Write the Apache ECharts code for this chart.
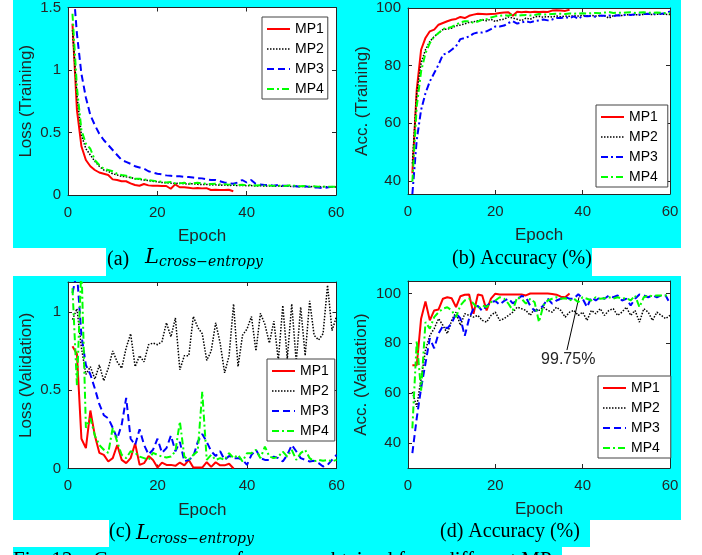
<!DOCTYPE html>
<html>
<head>
<meta charset="utf-8">
<script src="https://cdn.jsdelivr.net/npm/echarts@6/dist/echarts.min.js"></script>
<style>
  html, body { margin: 0; padding: 0; background: #fff; }
  #chart { width: 702px; height: 555px; }
</style>
</head>
<body>
<div id="chart"></div>
<script>
// ---- data ----
const epochs = [1,2,3,4,5,6,7,8,9,10,11,12,13,14,15,16,17,18,19,20,21,22,23,24,25,26,27,28,29,30,
  31,32,33,34,35,36,37,38,39,40,41,42,43,44,45,46,47,48,49,50,51,52,53,54,55,56,57,58,59,60];
const seriesNames = ['MP1', 'MP2', 'MP3', 'MP4'];
const xTicks = [0, 20, 40, 60];
const lossTrainTicks = [0, 0.5, 1, 1.5];
const accTicks = [40, 60, 80, 100];
const lossValTicks = [0, 0.5, 1];

// (a) training loss
const lossTrainMP1 = [1.37,0.68,0.39,0.28,0.23,0.20,0.18,0.17,0.16,0.125,0.12,0.11,0.11,0.093,0.08,0.074,0.088,0.077,0.074,0.074,
  0.072,0.072,0.05,0.085,0.062,0.062,0.058,0.053,0.056,0.053,0.055,0.04,0.042,0.04,0.04,0.042,0.03];
const lossTrainMP2 = [1.32,0.80,0.48,0.37,0.32,0.27,0.23,0.20,0.19,0.17,0.16,0.15,0.145,0.14,0.13,0.125,0.12,0.115,0.11,0.105,
  0.10,0.098,0.095,0.092,0.095,0.09,0.088,0.09,0.085,0.083,0.085,0.08,0.082,0.078,0.08,0.076,0.078,0.075,0.077,0.074,
  0.076,0.072,0.074,0.071,0.073,0.07,0.072,0.069,0.071,0.068,0.07,0.067,0.069,0.066,0.068,0.065,0.067,0.065,0.066,0.064];
const lossTrainMP3 = [1.75,1.29,0.97,0.78,0.64,0.56,0.49,0.44,0.40,0.36,0.32,0.28,0.265,0.25,0.23,0.22,0.21,0.19,0.18,0.17,
  0.165,0.157,0.154,0.15,0.15,0.146,0.144,0.14,0.135,0.133,0.125,0.12,0.12,0.11,0.10,0.095,0.09,0.10,0.12,0.10,
  0.12,0.09,0.085,0.08,0.08,0.075,0.08,0.075,0.075,0.07,0.07,0.065,0.07,0.065,0.06,0.06,0.055,0.06,0.065,0.07];
const lossTrainMP4 = [1.45,0.86,0.52,0.41,0.37,0.28,0.24,0.21,0.20,0.19,0.17,0.16,0.155,0.14,0.13,0.13,0.125,0.12,0.115,0.11,
  0.105,0.10,0.105,0.093,0.093,0.098,0.09,0.093,0.098,0.093,0.09,0.088,0.09,0.085,0.087,0.083,0.085,0.08,0.082,0.078,
  0.08,0.076,0.078,0.075,0.077,0.073,0.075,0.072,0.074,0.078,0.072,0.07,0.072,0.068,0.07,0.067,0.068,0.066,0.067,0.065];

// (b) training accuracy
const accTrainMP1 = [42.6,71.6,85.5,89.6,91.9,92.5,94.2,94.8,95.4,95.9,96.2,96.9,96.5,97.3,97.7,98.0,97.9,97.8,97.9,98.0,
  98.3,98.4,98.5,97.3,98.7,98.5,98.7,98.5,98.7,98.6,98.7,98.6,99.1,99.2,99.1,99.0,99.4];
const accTrainMP2 = [46.0,70.4,80.9,85.5,88.4,90.1,91.3,92.5,92.7,93.0,93.8,94.1,94.5,95.0,95.2,95.6,95.9,95.6,96.1,95.3,
  95.9,96.1,96.9,96.5,96.1,95.6,96.5,96.1,96.9,97.1,96.8,97.0,96.9,97.2,97.0,97.2,97.1,97.3,97.2,97.4,
  97.3,97.4,97.2,97.4,97.3,96.5,97.3,97.5,97.4,97.7,97.6,97.7,97.6,97.8,97.9,97.7,97.8,97.9,97.8,97.7];
const accTrainMP3 = [35.4,54.2,64.6,70.4,74.5,77.4,80.3,83.8,84.3,85.5,86.7,89.2,89.6,90.1,91.1,91.5,91.5,91.9,92.7,93.6,
  93.6,93.9,94.8,95.4,94.6,95.0,95.4,95.0,95.5,95.7,96.0,95.7,96.0,96.5,96.5,96.9,96.5,97.1,96.2,97.3,
  97.1,97.2,97.0,97.3,97.3,97.4,97.2,97.5,97.4,97.7,97.6,97.8,97.7,97.9,98.0,97.9,98.1,98.0,98.2,98.8];
const accTrainMP4 = [39.7,65.8,78.0,84.3,87.8,90.1,91.3,92.7,93.0,93.4,94.2,95.0,95.4,95.4,94.8,95.3,95.9,96.1,96.7,97.1,
  97.3,97.5,97.3,97.9,97.3,97.5,97.6,97.4,97.6,97.9,97.7,97.8,97.9,98.0,98.0,97.9,98.1,98.0,98.1,98.2,
  98.1,98.2,98.3,98.2,98.4,98.6,98.3,98.4,98.3,98.4,98.5,98.3,98.4,98.5,98.4,98.3,98.4,98.3,98.2,98.2];

// (c) validation loss
const lossValMP1 = [0.78,0.73,0.19,0.13,0.37,0.21,0.10,0.087,0.045,0.066,0.15,0.055,0.034,0.066,0.16,0.023,0.034,0.08,0.055,0.006,
  0.038,0.023,0.023,0.017,0.038,0.02,0.055,0.006,0.006,0.006,0.04,0.01,0.04,0.02,0.02,0.03,0.0];
const lossValMP2 = [0.95,1.02,0.77,0.60,0.65,0.57,0.66,0.56,0.64,0.75,0.68,0.64,0.77,0.86,0.65,0.72,0.68,0.79,0.80,0.79,
  0.81,0.93,0.84,0.96,0.63,0.72,0.72,0.97,0.90,0.86,0.69,0.75,0.93,0.80,0.61,0.72,1.05,0.65,0.85,0.89,
  0.97,0.75,0.99,0.92,0.80,0.94,0.69,1.04,0.70,1.05,0.68,1.03,0.72,1.07,0.85,0.82,0.86,1.17,0.88,0.97];
const lossValMP3 = [1.12,1.25,0.85,0.66,0.60,0.51,0.41,0.34,0.32,0.26,0.19,0.28,0.45,0.19,0.15,0.25,0.15,0.09,0.12,0.19,
  0.10,0.13,0.21,0.11,0.17,0.045,0.055,0.076,0.17,0.22,0.17,0.11,0.08,0.11,0.055,0.08,0.066,0.066,0.055,0.023,
  0.087,0.12,0.066,0.055,0.055,0.076,0.066,0.045,0.087,0.15,0.11,0.066,0.055,0.045,0.049,0.034,0.013,0.023,0.055,0.087];
const lossValMP4 = [1.15,0.53,1.30,0.26,0.32,0.21,0.15,0.12,0.10,0.26,0.17,0.087,0.066,0.11,0.10,0.076,0.066,0.055,0.10,0.087,
  0.076,0.07,0.076,0.11,0.30,0.076,0.055,0.087,0.11,0.49,0.055,0.087,0.055,0.066,0.055,0.098,0.066,0.087,0.045,0.098,
  0.098,0.119,0.066,0.14,0.076,0.066,0.076,0.108,0.076,0.119,0.055,0.098,0.119,0.066,0.045,0.055,0.049,0.055,0.045,0.055];

// (d) validation accuracy
const accValMP1 = [71.2,71.2,89.9,96.8,89.2,93.2,93.6,97.9,98.5,98.1,94.5,98.9,99.5,99.6,91.9,99.6,99.2,93.2,97.9,99.9,
  99.6,99.6,99.6,99.6,99.6,99.6,99.2,100,100,100,100,100,99.8,99.5,98.7,98.5,100];
const accValMP2 = [60.5,54.5,65.9,77.2,83.2,85.9,89.9,87.2,83.9,89.2,92.5,87.2,91.9,91.2,90.5,91.2,89.2,88.5,91.2,92.5,
  89.2,89.9,91.2,92.5,94.5,93.9,93.2,91.2,93.9,93.2,94.5,93.2,92.5,94.5,93.2,90.5,92.5,93.2,91.2,92.5,
  89.2,93.2,91.9,93.9,91.2,93.2,93.9,91.2,92.5,94.5,91.2,93.2,88.5,93.9,92.5,89.2,92.5,91.2,89.9,91.2];
const accValMP3 = [36.0,50.0,62.0,72.0,82.0,78.0,84.0,87.0,86.0,88.0,92.0,90.0,83.0,90.0,94.0,95.0,93.0,95.0,96.5,97.0,
  95.5,97.0,98.0,96.0,97.5,99.0,98.5,95.0,93.0,93.5,95.2,97.9,95.9,97.2,97.9,98.5,97.9,97.9,99.75,97.9,
  94.5,98.5,97.2,98.5,97.9,99.2,98.5,99.2,97.2,97.9,95.2,97.9,99.6,99.2,98.5,99.2,98.5,99.2,99.2,95.9];
const accValMP4 = [45.9,81.0,61.0,88.5,85.9,90.5,92.5,93.9,94.5,93.2,90.5,95.2,97.2,97.9,95.9,93.9,95.2,94.5,96.5,97.2,
  98.5,97.9,95.9,93.2,98.5,97.9,95.9,97.9,96.5,88.5,95.2,97.2,97.9,98.5,97.9,98.1,97.2,97.9,96.5,98.5,
  97.9,97.2,98.5,97.9,98.1,98.5,97.9,98.5,97.9,98.1,97.2,99.2,94.5,98.5,99.2,98.9,99.2,99.2,99.2,99.2];

// annotation in (d): best validation accuracy
const peakEpoch = 39;
const peakAcc = 99.75;
const peakLabel = '99.75%';

// ---- styling ----
const CYAN = '#00ffff';
const AXIS = '#262626';
const SANS = '"Liberation Sans", Arial, sans-serif';
const SERIF = '"Liberation Serif", "Times New Roman", serif';
const MATH = '"DejaVu Serif", serif';
const dotted = [1.5, 1.5];
const dashed = [7, 4];
const dashDot = [7, 3, 2, 3];
const NONE = 'rgba(0,0,0,0)';

const styleFor = {
  MP1: { color: '#ff0000', width: 2, type: 'solid' },
  MP2: { color: '#000000', width: 1.5, type: dotted },
  MP3: { color: '#0000ff', width: 2, type: dashed },
  MP4: { color: '#00ff00', width: 2, type: dashDot }
};

const panels = [
  { grid: { left: 68, top: 7, width: 268, height: 188 }, yName: 'Loss (Training)', nameGap: 33,
    yMin: 0, yMax: 1.5, yTicks: lossTrainTicks,
    data: [lossTrainMP1, lossTrainMP2, lossTrainMP3, lossTrainMP4],
    legend: { left: 262, top: 17, padding: [5, 4, 3, 4] } },
  { grid: { left: 408, top: 8, width: 262, height: 186 }, yName: 'Acc. (Training)', nameGap: 37,
    yMin: 35.4, yMax: 100, yTicks: accTicks,
    data: [accTrainMP1, accTrainMP2, accTrainMP3, accTrainMP4], mp3Type: dashDot,
    legend: { left: 596, top: 105, padding: [5, 10, 3, 4] } },
  { grid: { left: 68, top: 282, width: 268.5, height: 186.5 }, yName: 'Loss (Validation)', nameGap: 33,
    yMin: 0, yMax: 1.19, yTicks: lossValTicks,
    data: [lossValMP1, lossValMP2, lossValMP3, lossValMP4],
    legend: { left: 267, top: 359, padding: [5, 6, 3, 4] } },
  { grid: { left: 408, top: 281, width: 262, height: 187 }, yName: 'Acc. (Validation)', nameGap: 38,
    yMin: 30, yMax: 105, yTicks: accTicks,
    data: [accValMP1, accValMP2, accValMP3, accValMP4],
    legend: { left: 598, top: 376, padding: [5, 11, 3, 4] } }
];

const grids = [], xAxes = [], yAxes = [], legends = [], series = [];

panels.forEach(function (p, i) {
  grids.push(Object.assign({ show: true, backgroundColor: '#fff', borderWidth: 0 }, p.grid));

  const tickCommon = { inside: true, length: 4, lineStyle: { color: AXIS } };
  const lineCommon = { show: true, onZero: false, lineStyle: { color: AXIS, width: 1 } };

  xAxes.push({
    type: 'value', gridIndex: i, position: 'bottom', min: 0, max: 60, interval: 20,
    name: 'Epoch', nameLocation: 'middle', nameGap: 33,
    nameTextStyle: { fontFamily: SANS, fontSize: 17, color: AXIS },
    axisLine: lineCommon, axisTick: Object.assign({ customValues: xTicks }, tickCommon),
    axisLabel: { customValues: xTicks, fontFamily: SANS, fontSize: 15, color: AXIS, margin: 10 },
    splitLine: { show: false }
  });
  xAxes.push({
    type: 'value', gridIndex: i, position: 'top', min: 0, max: 60, interval: 20,
    axisLine: lineCommon, axisTick: Object.assign({ customValues: xTicks }, tickCommon),
    axisLabel: { show: false }, splitLine: { show: false }
  });
  yAxes.push({
    type: 'value', gridIndex: i, position: 'left', min: p.yMin, max: p.yMax,
    name: p.yName, nameLocation: 'middle', nameGap: p.nameGap,
    nameTextStyle: { fontFamily: SANS, fontSize: 17, color: AXIS },
    axisLine: lineCommon, axisTick: Object.assign({ customValues: p.yTicks }, tickCommon),
    axisLabel: { customValues: p.yTicks, fontFamily: SANS, fontSize: 15, color: AXIS, margin: 7 },
    splitLine: { show: false }
  });
  yAxes.push({
    type: 'value', gridIndex: i, position: 'right', min: p.yMin, max: p.yMax,
    axisLine: lineCommon, axisTick: Object.assign({ customValues: p.yTicks }, tickCommon),
    axisLabel: { show: false }, splitLine: { show: false }
  });

  legends.push({
    orient: 'vertical', left: p.legend.left, top: p.legend.top, padding: p.legend.padding,
    data: seriesNames.map(function (n) {
      const st = styleFor[n];
      const t = (n === 'MP3' && p.mp3Type) ? p.mp3Type : st.type;
      return {
        name: n,
        lineStyle: { color: st.color, width: st.width, type: t },
        itemStyle: { color: NONE, borderColor: NONE, borderWidth: 0, opacity: 0 }
      };
    }),
    itemWidth: 23, itemHeight: 14, itemGap: 6, itemTextGap: 3,
    backgroundColor: '#fff', borderColor: '#444', borderWidth: 1, borderRadius: 0,
    textStyle: { fontFamily: SANS, fontSize: 14, color: '#000' },
    selectedMode: false
  });

  seriesNames.forEach(function (n, k) {
    const st = styleFor[n];
    const vals = p.data[k];
    const s = {
      name: n, type: 'line', xAxisIndex: 2 * i, yAxisIndex: 2 * i,
      data: vals.map(function (v, j) { return [epochs[j], v]; }),
      symbol: 'none', showSymbol: false, clip: true, z: 2 + k,
      lineStyle: { color: st.color, width: st.width, type: (n === 'MP3' && p.mp3Type) ? p.mp3Type : st.type },
      itemStyle: { color: st.color }
    };
    if (i === 3 && n === 'MP3') {
      s.markLine = {
        silent: true, symbol: ['none', 'arrow'], symbolSize: [0, 9],
        lineStyle: { color: '#000', width: 1, type: 'solid' },
        label: { show: false },
        data: [[{ coord: [36.4, 77.3] }, { coord: [peakEpoch + 0.15, peakAcc - 1.3] }]]
      };
      s.markPoint = {
        silent: true, symbol: 'circle', symbolSize: 0,
        label: { show: true, position: 'inside', formatter: peakLabel, fontFamily: SANS, fontSize: 16, color: AXIS },
        data: [{ coord: [36.7, 73.5] }]
      };
    }
    series.push(s);
  });
});

// background highlight boxes behind the figure (layout only)
const bgBoxes = [
  [13, 0, 668, 248], [106, 248, 486, 28], [13, 276, 668, 244], [109, 520, 481, 27], [13, 547, 549, 8]
];
function txt(x, y, text, font) {
  return { type: 'text', x: x, y: y, z: 50,
    style: { text: text, font: font, fill: '#000', align: 'left', textAlign: 'left',
      verticalAlign: 'middle', textVerticalAlign: 'middle' } };
}
const graphics = bgBoxes.map(function (b) {
  return { type: 'rect', z: -10, shape: { x: b[0], y: b[1], width: b[2], height: b[3] }, style: { fill: CYAN } };
}).concat([
  txt(107, 260, '(a)', '20px ' + SERIF),
  txt(145, 257.5, 'L', 'italic 21px ' + MATH),
  txt(159, 262.5, 'cross\u2212entropy', 'italic 14px ' + MATH),
  txt(452, 259, '(b) Accuracy (%)', '20px ' + SERIF),
  txt(109, 532, '(c)', '20px ' + SERIF),
  txt(136, 534, 'L', 'italic 21px ' + MATH),
  txt(150, 539.5, 'cross\u2212entropy', 'italic 14px ' + MATH),
  txt(440, 532, '(d) Accuracy (%)', '20px ' + SERIF),
  txt(13, 560, 'Fig. 12.   Convergence performance obtained from different MPs', '21px ' + SERIF)
]);

const chart = echarts.init(document.getElementById('chart'));
chart.setOption({
  animation: false,
  backgroundColor: '#fff',
  grid: grids,
  xAxis: xAxes,
  yAxis: yAxes,
  legend: legends,
  series: series,
  graphic: graphics
});
</script>
</body>
</html>
